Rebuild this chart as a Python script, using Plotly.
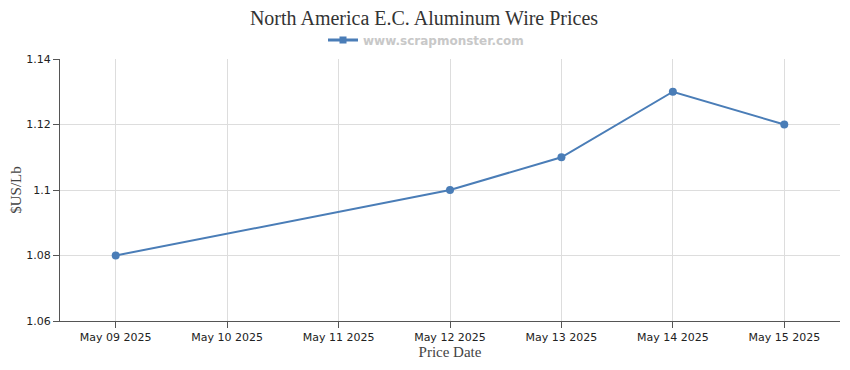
import plotly.graph_objects as go

dates = ["2025-05-09", "2025-05-12", "2025-05-13", "2025-05-14", "2025-05-15"]
prices = [1.08, 1.10, 1.11, 1.13, 1.12]
tick_dates = ["2025-05-09", "2025-05-10", "2025-05-11", "2025-05-12", "2025-05-13", "2025-05-14", "2025-05-15"]
y_ticks = [1.06, 1.08, 1.1, 1.12, 1.14]
y_tick_labels = ["1.06", "1.08", "1.1", "1.12", "1.14"]

color = "#4a7db7"
fig = go.Figure()
fig.add_trace(go.Scatter(
    x=dates, y=prices, mode="lines+markers",
    showlegend=False,
    line=dict(color=color, width=2),
    marker=dict(color=color, size=8, symbol="circle"),
))
fig.add_trace(go.Scatter(
    x=[None], y=[None], mode="lines+markers",
    name="<b>www.scrapmonster.com</b>",
    line=dict(color=color, width=3),
    marker=dict(color=color, size=7, symbol="square"),
))
tick_font = dict(family="DejaVu Sans, Tahoma, sans-serif", size=11, color="#222")
H = 370
W = 850
top, bottom, left, right = 51, 57, 52, 18
ph = H - top - bottom
pw = W - left - right
fig.update_layout(
    width=W, height=H,
    paper_bgcolor="white", plot_bgcolor="white",
    margin=dict(l=left, r=right, t=top, b=bottom, autoexpand=False),
    title=dict(text="North America E.C. Aluminum Wire Prices", x=416 / W, xanchor="center",
               y=1 - 10 / H, yanchor="middle",
               font=dict(family="Liberation Serif, Times New Roman, serif", size=20, color="#333")),
    showlegend=True,
    legend=dict(orientation="h", x=(418 - left) / pw, xanchor="center", y=1 + 19 / ph, yanchor="middle",
                font=dict(family="DejaVu Sans, Verdana, sans-serif", size=12, color="#c8c8c8"),
                itemwidth=30, bgcolor="rgba(0,0,0,0)"),
    xaxis=dict(
        type="date", range=["2025-05-08 12:00", "2025-05-15 12:00"],
        tickmode="array", tickvals=tick_dates, tickformat="%b %d %Y",
        showgrid=True, gridcolor="#dddddd", gridwidth=1,
        showline=True, linecolor="#555", linewidth=1,
        ticks="outside", ticklen=6, tickcolor="#555",
        tickfont=tick_font, automargin=False,
        title=dict(text="Price Date", standoff=1,
                   font=dict(family="Liberation Serif, Times New Roman, serif", size=15, color="#444")),
        zeroline=False,
    ),
    yaxis=dict(
        range=[1.06, 1.14], tickmode="array", tickvals=y_ticks, ticktext=y_tick_labels,
        showgrid=True, gridcolor="#dddddd", gridwidth=1,
        showline=True, linecolor="#555", linewidth=1,
        ticks="outside", ticklen=6, tickcolor="#555",
        tickfont=tick_font, automargin=False,
        title=dict(text="$US/Lb", standoff=3,
                   font=dict(family="Liberation Serif, Times New Roman, serif", size=15, color="#444")),
        zeroline=False,
    ),
)
fig.write_html("out.html")
